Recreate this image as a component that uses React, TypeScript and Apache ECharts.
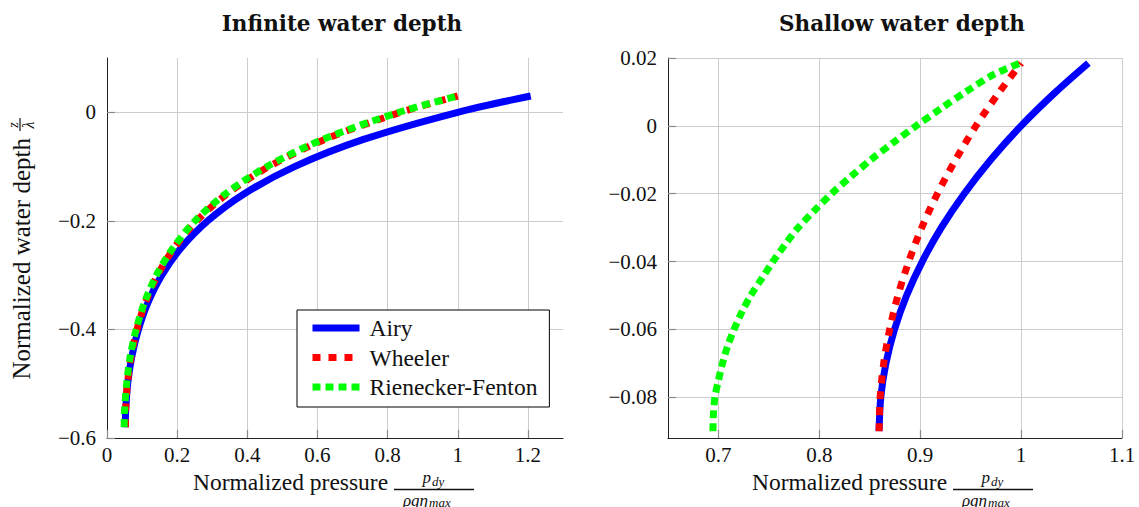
import React, { useEffect, useRef } from 'react';
import * as echarts from 'echarts';

// Infinite water depth: normalized depth z/λ and the pressure of each theory
const deepDepth = [-0.58, -0.55, -0.5, -0.45, -0.4, -0.35, -0.3, -0.25, -0.2, -0.15, -0.1, -0.05, 0, 0.03];
const deepAiry = [0.0523, 0.0532, 0.059, 0.0707, 0.0896, 0.117, 0.1563, 0.211, 0.287, 0.3915, 0.5348, 0.7313, 1.0, 1.208];
const deepWheeler = [0.0523, 0.0531, 0.0583, 0.0688, 0.0855, 0.1099, 0.1442, 0.1914, 0.2556, 0.343, 0.4616, 0.621, 0.837, 1.0];
const deepFenton = [0.049, 0.05, 0.056, 0.066, 0.083, 0.107, 0.141, 0.188, 0.251, 0.338, 0.456, 0.615, 0.832, 1.0];

// Shallow water depth
const shallowDepth = [-0.09, -0.08, -0.07, -0.06, -0.05, -0.04, -0.03, -0.02, -0.01, 0, 0.01, 0.0185];
const shallowAiry = [0.8592, 0.8609, 0.866, 0.8745, 0.8865, 0.902, 0.9209, 0.9436, 0.9699, 1.0, 1.0344, 1.0667];
const shallowWheeler = [0.8592, 0.8603, 0.8638, 0.8697, 0.8779, 0.8886, 0.9015, 0.917, 0.935, 0.9552, 0.9785, 1.0];
const shallowFentonDepth = [
  -0.09, -0.085, -0.08, -0.075, -0.07, -0.065, -0.06, -0.055, -0.05, -0.045, -0.04, -0.035,
  -0.03, -0.025, -0.02, -0.015, -0.01, -0.005, 0, 0.005, 0.01, 0.015, 0.0185,
];
const shallowFenton = [
  0.6945, 0.695, 0.6965, 0.7, 0.704, 0.709, 0.7155, 0.723, 0.732, 0.743, 0.754, 0.766,
  0.779, 0.795, 0.812, 0.831, 0.851, 0.873, 0.896, 0.92, 0.945, 0.972, 0.999,
];

// Tick positions
const deepXTicks = [0, 0.2, 0.4, 0.6, 0.8, 1, 1.2];
const deepYTicks = [-0.6, -0.4, -0.2, 0];
const shallowXTicks = [0.7, 0.8, 0.9, 1, 1.1];
const shallowYTicks = [-0.08, -0.06, -0.04, -0.02, 0, 0.02];

const theories = ['Airy', 'Wheeler', 'Rienecker-Fenton'];
const colors = ['#0000ff', '#ff0000', '#00ff00'];
const dashes: (string | number[])[] = ['solid', [8, 8], [8, 5]];

const serif = 'Liberation Serif';
const ink = '#111111';
const labelSize = 23.5;

const pairs = (xs: number[], ys: number[]) => xs.map((x, i) => [x, ys[i]]);
const fmt = (v: number) => String(v).replace('-', '\u2212');

function valueAxis(grid: number, min: number, max: number, ticks: number[], isX: boolean) {
  return {
    type: 'value',
    gridIndex: grid,
    min,
    max,
    axisLine: { show: true, onZero: false, lineStyle: { color: '#222', width: 1 } },
    axisTick: {
      show: true,
      inside: true,
      length: 8,
      customValues: ticks,
      lineStyle: { color: '#8a8a8a', width: 1.2 },
    },
    axisLabel: {
      customValues: ticks,
      formatter: fmt,
      margin: isX ? 6 : 11,
      fontFamily: serif,
      fontSize: 21,
      color: ink,
    },
    splitLine: { show: true, lineStyle: { color: '#cccccc', width: 1 } },
  };
}

function lineSeries(k: number, grid: number, data: number[][]) {
  return {
    type: 'line',
    name: theories[k],
    xAxisIndex: grid,
    yAxisIndex: grid,
    data,
    smooth: 0.3,
    symbol: 'none',
    showSymbol: false,
    lineStyle: { color: colors[k], width: 7, type: dashes[k], cap: 'butt' },
    itemStyle: { color: colors[k] },
    z: 2 + k,
  };
}

function txt(text: string, x: number, y: number, size: number, align: string, italic: boolean) {
  return {
    type: 'text',
    x,
    y,
    style: {
      text,
      fontFamily: serif,
      fontSize: size,
      fontStyle: italic ? 'italic' : 'normal',
      fill: ink,
      align,
      verticalAlign: 'middle',
    },
  };
}

// Axis title with a stacked fraction p_dy / (ρ g η_max)
function pressureLabel(textLeft: number, barLeft: number, barRight: number) {
  const cx = (barLeft + barRight) / 2;
  return {
    type: 'group',
    children: [
      txt('Normalized pressure', textLeft, 482, labelSize, 'left', false),
      txt('p', cx - 3, 477, 17, 'right', true),
      txt('dy', cx - 2, 481, 13, 'left', true),
      { type: 'line', shape: { x1: barLeft, y1: 489.5, x2: barRight, y2: 489.5 }, style: { stroke: ink, lineWidth: 1.4 } },
      txt('ρgη', cx - 6, 500, 17, 'right', true),
      txt('max', cx - 5, 502, 13, 'left', true),
    ],
  };
}

// Rotated axis title with the fraction z/λ
function depthLabel(cx: number, cy: number) {
  return {
    type: 'group',
    x: cx,
    y: cy,
    rotation: Math.PI / 2,
    children: [
      txt('Normalized water depth', 105, 1, 25, 'right', false),
      txt('z', 118, -7, 14, 'center', true),
      { type: 'line', shape: { x1: 112, y1: 0, x2: 125, y2: 0 }, style: { stroke: ink, lineWidth: 1.2 } },
      txt('λ', 118, 8, 16, 'center', true),
    ],
  };
}

export default function App() {
  const ref = useRef<HTMLDivElement>(null);

  useEffect(() => {
    if (!ref.current) return;
    const chart = echarts.init(ref.current, undefined, { renderer: 'svg' });
    const titleStyle = { fontFamily: 'DejaVu Serif', fontWeight: 'bold', fontSize: 21.5, color: ink };
    chart.setOption({
      animation: false,
      backgroundColor: '#ffffff',
      title: [
        { text: 'Infinite water depth', left: 337, top: 7, textAlign: 'center', textStyle: titleStyle },
        { text: 'Shallow water depth', left: 897, top: 7, textAlign: 'center', textStyle: titleStyle },
      ],
      grid: [
        { left: 107, top: 58, width: 456, height: 380, containLabel: false },
        { left: 668, top: 58, width: 454, height: 380, containLabel: false },
      ],
      xAxis: [
        valueAxis(0, 0, 1.3, deepXTicks, true),
        valueAxis(1, 0.65, 1.1, shallowXTicks, true),
      ],
      yAxis: [
        valueAxis(0, -0.6, 0.1, deepYTicks, false),
        valueAxis(1, -0.092, 0.02, shallowYTicks, false),
      ],
      legend: {
        data: theories,
        orient: 'vertical',
        left: 297,
        top: 310,
        itemWidth: 47,
        itemHeight: 14,
        itemGap: 5.5,
        padding: [6, 12, 8, 12],
        borderColor: '#000',
        borderWidth: 1,
        backgroundColor: '#fff',
        selectedMode: false,
        lineStyle: { width: 7 },
        itemStyle: { opacity: 0 },
        textStyle: { fontFamily: serif, fontSize: labelSize, color: ink, padding: [0, 0, 0, 5] },
      },
      series: [
        lineSeries(0, 0, pairs(deepAiry, deepDepth)),
        lineSeries(1, 0, pairs(deepWheeler, deepDepth)),
        lineSeries(2, 0, pairs(deepFenton, deepDepth)),
        lineSeries(0, 1, pairs(shallowAiry, shallowDepth)),
        lineSeries(1, 1, pairs(shallowWheeler, shallowDepth)),
        lineSeries(2, 1, pairs(shallowFenton, shallowFentonDepth)),
      ],
      graphic: [
        pressureLabel(193, 394, 474),
        pressureLabel(752, 953, 1033),
        depthLabel(20, 243),
      ],
    });
    return () => chart.dispose();
  }, []);

  return <div ref={ref} style={{ position: 'fixed', left: 0, top: 0, width: 1139, height: 507 }} />;
}
